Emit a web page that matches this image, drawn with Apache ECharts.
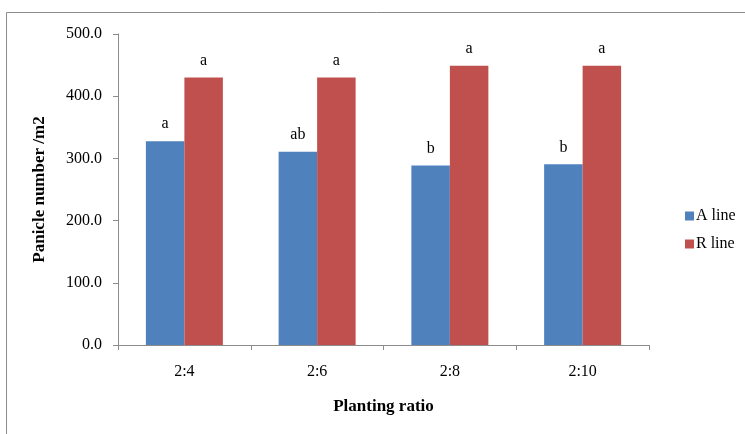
<!DOCTYPE html>
<html><head><meta charset="utf-8">
<script src="https://cdn.jsdelivr.net/npm/echarts@6/dist/echarts.min.js"></script>
<style>html,body{margin:0;padding:0;background:#fff}#c{width:745px;height:434px}</style>
</head><body><div id="c"></div>
<script>
const categories = ['2:4', '2:6', '2:8', '2:10'];
const aLine = [327.5, 310.5, 288.5, 290.5];
const rLine = [430, 430, 449, 449];
const aLetters = ['a', 'ab', 'b', 'b'];
const rLetters = ['a', 'a', 'a', 'a'];
const yTicks = [0, 100, 200, 300, 400, 500];

const serif = '"Liberation Serif", "DejaVu Serif", serif';
const chart = echarts.init(document.getElementById('c'));
chart.setOption({
  animation: false,
  graphic: [{
    type: 'rect', shape: { x: 6.5, y: 12.5, width: 800, height: 500 },
    style: { fill: 'none', stroke: '#8c8c8c', lineWidth: 1 }, silent: true
  }],
  grid: { left: 118, top: 34, right: 96, bottom: 89 },
  legend: {
    orient: 'vertical', left: 680, top: 203, itemWidth: 9, itemHeight: 9, itemGap: 12,
    icon: 'rect',
    textStyle: { fontFamily: serif, fontSize: 16, color: '#000', padding: [0, 0, 0, -3] },
    data: ['A line', 'R line']
  },
  xAxis: {
    type: 'category', data: categories,
    name: 'Planting ratio', nameLocation: 'middle', nameGap: 53,
    nameTextStyle: { fontFamily: serif, fontSize: 17, fontWeight: 'bold', color: '#000' },
    axisLine: { lineStyle: { color: '#8c8c8c' } },
    axisTick: { show: true, length: 5, lineStyle: { color: '#8c8c8c' } },
    axisLabel: { fontFamily: serif, fontSize: 16, color: '#000', margin: 19 }
  },
  yAxis: {
    type: 'value', min: yTicks[0], max: yTicks[yTicks.length - 1], interval: 100,
    name: 'Panicle number /m2', nameLocation: 'middle', nameGap: 70,
    nameTextStyle: { fontFamily: serif, fontSize: 17, fontWeight: 'bold', color: '#000' },
    axisLine: { show: true, lineStyle: { color: '#8c8c8c' } },
    axisTick: { show: true, length: 5, lineStyle: { color: '#8c8c8c' } },
    splitLine: { show: false },
    axisLabel: { fontFamily: serif, fontSize: 16, color: '#000', margin: 16, formatter: v => v.toFixed(1) }
  },
  series: [
    {
      name: 'A line', type: 'bar', data: aLine, barGap: '0%', barCategoryGap: '42%',
      itemStyle: { color: '#4f81bd' },
      label: { show: true, position: 'top', distance: 9, fontFamily: serif, fontSize: 16, color: '#000',
        formatter: p => aLetters[p.dataIndex] }
    },
    {
      name: 'R line', type: 'bar', data: rLine, barGap: '0%', barCategoryGap: '42%',
      itemStyle: { color: '#c0504d' },
      label: { show: true, position: 'top', distance: 9, fontFamily: serif, fontSize: 16, color: '#000',
        formatter: p => rLetters[p.dataIndex] }
    }
  ]
});
</script></body></html>
